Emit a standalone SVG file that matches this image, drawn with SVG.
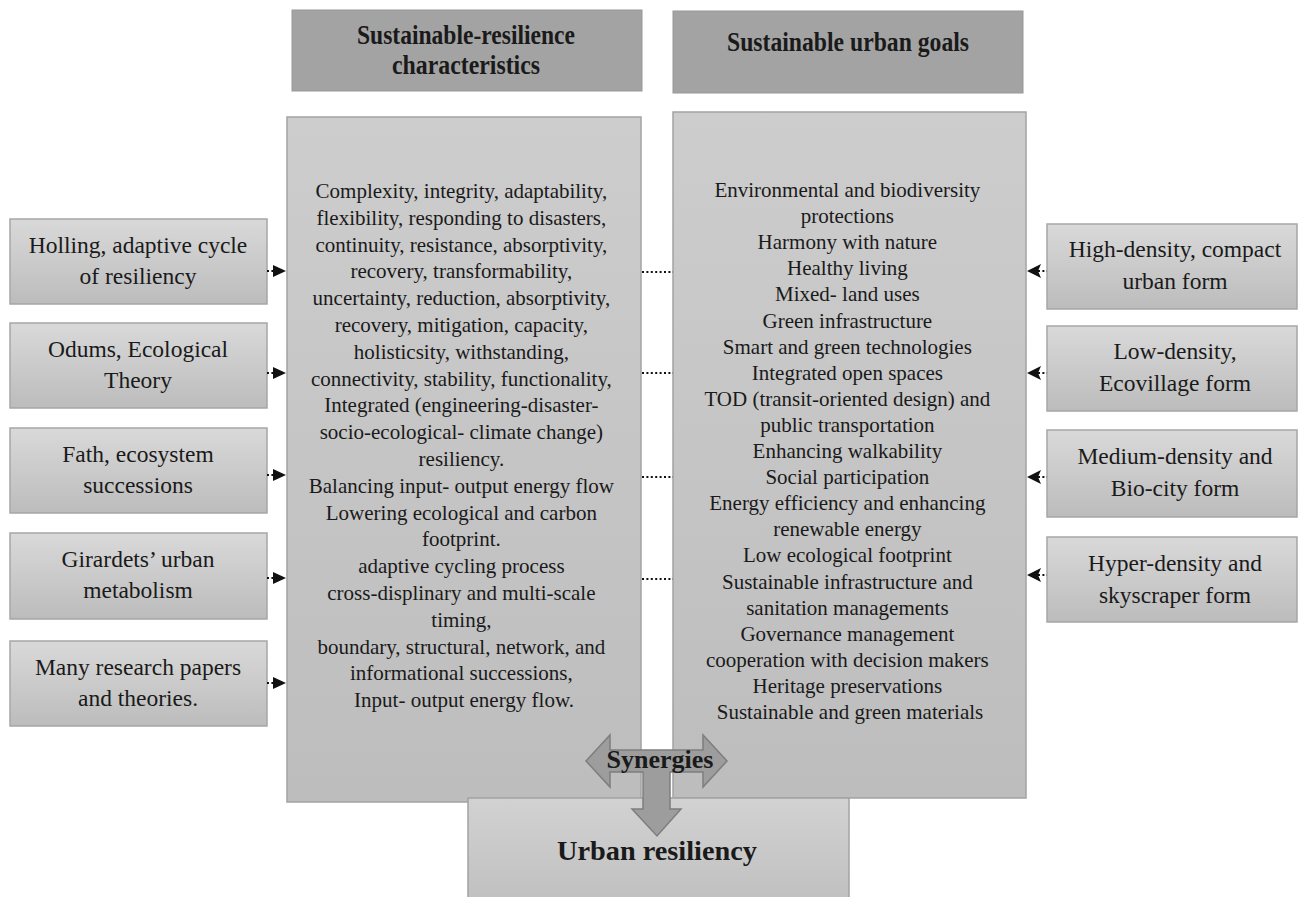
<svg xmlns="http://www.w3.org/2000/svg" width="1304" height="897" viewBox="0 0 1304 897">
<defs>
<linearGradient id="gSide" x1="0" y1="0" x2="0" y2="1">
<stop offset="0" stop-color="#d9d9d9"/><stop offset="1" stop-color="#bcbcbc"/>
</linearGradient>
<linearGradient id="gMain" x1="0" y1="0" x2="0" y2="1">
<stop offset="0" stop-color="#cdcdcd"/><stop offset="1" stop-color="#bdbdbd"/>
</linearGradient>
<linearGradient id="gBottom" x1="0" y1="0" x2="0" y2="1">
<stop offset="0" stop-color="#d2d2d2"/><stop offset="1" stop-color="#bfbfbf"/>
</linearGradient>
</defs>
<style>
.side{fill:url(#gSide);stroke:#a6a6a6;stroke-width:1.5}
.main{fill:url(#gMain);stroke:#a3a3a3;stroke-width:1.5}
.head{fill:#a3a3a3;stroke:#989898;stroke-width:1}
.t{font-family:"Liberation Serif","Times New Roman",serif;fill:#1a1a1a;text-anchor:middle}
.st{font-size:23.5px}
.mt{font-size:21px}
.hb{font-weight:bold;font-size:27px}
.dot{stroke:#111;stroke-width:2.2;stroke-dasharray:2 2.4;fill:none}
.ah{fill:#111}
</style>
<rect width="1304" height="897" fill="#ffffff"/>

<g id="header-left">
<rect class="head" x="292" y="10" width="350" height="81"/>
<text class="t hb" x="466" y="44" textLength="218" lengthAdjust="spacingAndGlyphs">Sustainable-resilience</text>
<text class="t hb" x="466" y="74" textLength="148" lengthAdjust="spacingAndGlyphs">characteristics</text>
</g>
<g id="header-right">
<rect class="head" x="673" y="11" width="350" height="82"/>
<text class="t hb" x="848" y="51" textLength="242" lengthAdjust="spacingAndGlyphs">Sustainable urban goals</text>
</g>

<g id="left-main">
<rect class="main" x="287" y="117" width="354" height="685"/>
<text class="t mt">
<tspan x="464" y="198">Complexity, integrity, adaptability,</tspan>
<tspan x="464" y="224.8">flexibility, responding to disasters,</tspan>
<tspan x="464" y="251.6">continuity, resistance, absorptivity,</tspan>
<tspan x="464" y="278.4">recovery, transformability,</tspan>
<tspan x="464" y="305.2">uncertainty, reduction, absorptivity,</tspan>
<tspan x="464" y="332">recovery, mitigation, capacity,</tspan>
<tspan x="464" y="358.8">holisticsity, withstanding,</tspan>
<tspan x="464" y="385.6">connectivity, stability, functionality,</tspan>
<tspan x="464" y="412.4">Integrated (engineering-disaster-</tspan>
<tspan x="464" y="439.2">socio-ecological- climate change)</tspan>
<tspan x="464" y="466">resiliency.</tspan>
<tspan x="464" y="492.8">Balancing input- output energy flow</tspan>
<tspan x="464" y="519.6">Lowering ecological and carbon</tspan>
<tspan x="464" y="546.4">footprint.</tspan>
<tspan x="464" y="573.2">adaptive cycling process</tspan>
<tspan x="464" y="600">cross-displinary and multi-scale</tspan>
<tspan x="464" y="626.8">timing,</tspan>
<tspan x="464" y="653.6">boundary, structural, network, and</tspan>
<tspan x="464" y="680.4">informational successions,</tspan>
<tspan x="464" y="707.2">Input- output energy flow.</tspan>
</text>
</g>

<g id="right-main">
<rect class="main" x="673" y="112" width="353" height="686"/>
<text class="t mt">
<tspan x="850" y="197">Environmental and biodiversity</tspan>
<tspan x="850" y="223.1">protections</tspan>
<tspan x="850" y="249.2">Harmony with nature</tspan>
<tspan x="850" y="275.3">Healthy living</tspan>
<tspan x="850" y="301.4">Mixed- land uses</tspan>
<tspan x="850" y="327.5">Green infrastructure</tspan>
<tspan x="850" y="353.6">Smart and green technologies</tspan>
<tspan x="850" y="379.7">Integrated open spaces</tspan>
<tspan x="850" y="405.8">TOD (transit-oriented design) and</tspan>
<tspan x="850" y="431.9">public transportation</tspan>
<tspan x="850" y="458">Enhancing walkability</tspan>
<tspan x="850" y="484.1">Social participation</tspan>
<tspan x="850" y="510.2">Energy efficiency and enhancing</tspan>
<tspan x="850" y="536.3">renewable energy</tspan>
<tspan x="850" y="562.4">Low ecological footprint</tspan>
<tspan x="850" y="588.5">Sustainable infrastructure and</tspan>
<tspan x="850" y="614.6">sanitation managements</tspan>
<tspan x="850" y="640.7">Governance management</tspan>
<tspan x="850" y="666.8">cooperation with decision makers</tspan>
<tspan x="850" y="692.9">Heritage preservations</tspan>
<tspan x="850" y="719">Sustainable and green materials</tspan>
</text>
</g>

<g id="left-1">
<rect class="side" x="10" y="219" width="257" height="85"/>
<text class="t st"><tspan x="138" y="253">Holling, adaptive cycle</tspan><tspan x="138" y="284">of resiliency</tspan></text>
</g>
<g id="left-2">
<rect class="side" x="10" y="323" width="257" height="85"/>
<text class="t st"><tspan x="138" y="357">Odums, Ecological</tspan><tspan x="138" y="388">Theory</tspan></text>
</g>
<g id="left-3">
<rect class="side" x="10" y="428" width="257" height="85"/>
<text class="t st"><tspan x="138" y="462">Fath, ecosystem</tspan><tspan x="138" y="493">successions</tspan></text>
</g>
<g id="left-4">
<rect class="side" x="10" y="533" width="257" height="86"/>
<text class="t st"><tspan x="138" y="567">Girardets’ urban</tspan><tspan x="138" y="598">metabolism</tspan></text>
</g>
<g id="left-5">
<rect class="side" x="10" y="641" width="257" height="85"/>
<text class="t st"><tspan x="138" y="675">Many research papers</tspan><tspan x="138" y="706">and theories.</tspan></text>
</g>

<g id="right-1">
<rect class="side" x="1047" y="224" width="250" height="85"/>
<text class="t st"><tspan x="1175" y="257">High-density, compact</tspan><tspan x="1175" y="289">urban form</tspan></text>
</g>
<g id="right-2">
<rect class="side" x="1047" y="326" width="250" height="85"/>
<text class="t st"><tspan x="1175" y="359">Low-density,</tspan><tspan x="1175" y="391">Ecovillage form</tspan></text>
</g>
<g id="right-3">
<rect class="side" x="1047" y="430" width="250" height="87"/>
<text class="t st"><tspan x="1175" y="464">Medium-density and</tspan><tspan x="1175" y="496">Bio-city form</tspan></text>
</g>
<g id="right-4">
<rect class="side" x="1047" y="537" width="250" height="85"/>
<text class="t st"><tspan x="1175" y="571">Hyper-density and</tspan><tspan x="1175" y="603">skyscraper form</tspan></text>
</g>

<g id="urban-resiliency">
<rect x="468" y="798" width="381" height="110" fill="url(#gBottom)" stroke="#a3a3a3" stroke-width="1.5"/>
<text class="t" x="657" y="860" font-size="28" font-weight="bold" textLength="200" lengthAdjust="spacingAndGlyphs">Urban resiliency</text>
</g>

<g id="connectors">
<line class="dot" x1="267" y1="271" x2="274" y2="271"/>
<path class="ah" d="M273,265 L286,271 L273,277 z"/>
<line class="dot" x1="267" y1="373" x2="274" y2="373"/>
<path class="ah" d="M273,367 L286,373 L273,379 z"/>
<line class="dot" x1="267" y1="475" x2="274" y2="475"/>
<path class="ah" d="M273,469 L286,475 L273,481 z"/>
<line class="dot" x1="267" y1="578" x2="274" y2="578"/>
<path class="ah" d="M273,572 L286,578 L273,584 z"/>
<line class="dot" x1="267" y1="683" x2="274" y2="683"/>
<path class="ah" d="M273,677 L286,683 L273,689 z"/>

<line class="dot" x1="1038" y1="271" x2="1047" y2="271"/>
<path class="ah" d="M1027,271 L1041,264 L1038,271 L1041,278 z"/>
<line class="dot" x1="1038" y1="373" x2="1047" y2="373"/>
<path class="ah" d="M1027,373 L1041,366 L1038,373 L1041,380 z"/>
<line class="dot" x1="1038" y1="477" x2="1047" y2="477"/>
<path class="ah" d="M1027,477 L1041,470 L1038,477 L1041,484 z"/>
<line class="dot" x1="1038" y1="575" x2="1047" y2="575"/>
<path class="ah" d="M1027,575 L1041,568 L1038,575 L1041,582 z"/>

<line class="dot" x1="642" y1="272" x2="673" y2="272"/>
<line class="dot" x1="642" y1="373" x2="673" y2="373"/>
<line class="dot" x1="642" y1="477" x2="673" y2="477"/>
<line class="dot" x1="642" y1="579" x2="673" y2="579"/>
</g>

<g id="synergies">
<polygon points="586,761 610,735 610,750 703,750 703,735 727,761 703,787 703,772 670,772 670,809 681,809 657,836 632,809 643,809 643,772 610,772 610,787" fill="#9d9d9d" stroke="#7e7e7e" stroke-width="1.5"/>
<text class="t" x="660" y="768" font-size="25" font-weight="bold" textLength="107" lengthAdjust="spacingAndGlyphs">Synergies</text>
</g>
</svg>
